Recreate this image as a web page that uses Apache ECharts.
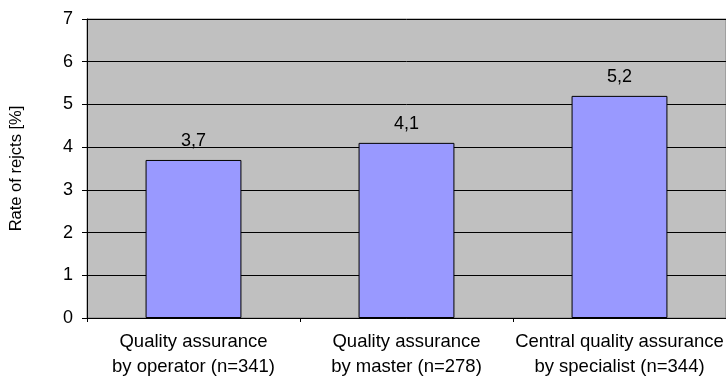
<!DOCTYPE html>
<html><head><meta charset="utf-8">
<script src="https://cdn.jsdelivr.net/npm/echarts@6/dist/echarts.min.js"></script>
<style>html,body{margin:0;padding:0;background:#fff}#c{width:726px;height:379px}</style>
</head><body><div id="c"></div>
<script>
const categories = ['Quality assurance\nby operator (n=341)', 'Quality assurance\nby master (n=278)', 'Central quality assurance\nby specialist (n=344)'];
const values = [3.7, 4.1, 5.2];
const yTicks = [0, 1, 2, 3, 4, 5, 6, 7];
const yTitle = 'Rate of rejcts [%]';

const chart = echarts.init(document.getElementById('c'));
const font = 'Liberation Sans, Arial, sans-serif';
chart.setOption({
  animation: false,
  grid: { left: 84, right: -3, top: 19, bottom: 61, backgroundColor: '#C0C0C0', show: true, borderColor: '#808080', borderWidth: 1 },
  xAxis: {
    type: 'category', data: categories,
    axisLine: { lineStyle: { color: '#000', width: 1 } },
    axisTick: { show: true, length: 4, lineStyle: { color: '#000' } },
    axisLabel: { color: '#000', fontFamily: font, fontSize: 18.5, lineHeight: 25, margin: 11, interval: 0 }
  },
  yAxis: {
    type: 'value', min: yTicks[0], max: yTicks[yTicks.length - 1], interval: 1,
    name: yTitle, nameLocation: 'middle', nameGap: 62, nameRotate: 90,
    nameTextStyle: { color: '#000', fontFamily: font, fontSize: 16.5 },
    axisLine: { show: true, lineStyle: { color: '#000' } },
    axisTick: { show: true, length: 5, lineStyle: { color: '#000' } },
    axisLabel: { color: '#000', fontFamily: font, fontSize: 18, margin: 14 },
    splitLine: { show: true, lineStyle: { color: '#000', width: 1 } }
  },
  series: [{
    type: 'bar', data: values, barWidth: '45%',
    itemStyle: { color: '#9999FF', borderColor: '#000', borderWidth: 1 },
    label: { show: true, position: 'top', distance: 10, color: '#000', fontFamily: font, fontSize: 18,
      formatter: p => String(p.value).replace('.', ',') }
  }]
});
</script></body></html>
